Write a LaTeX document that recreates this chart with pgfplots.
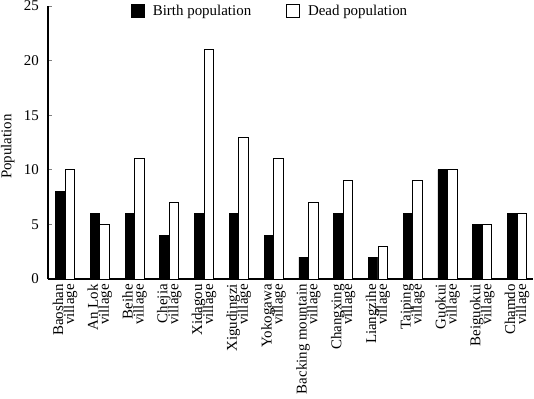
\documentclass[border=0pt]{standalone}
\usepackage{pgfplots}
\pgfplotsset{compat=1.18}
\usepackage{fontspec}
\setmainfont{Liberation Serif}
\newcommand{\tightfont}{\fontsize{15}{11}\selectfont\lineskiplimit=-20pt\relax\lineskip=0pt\relax}

\begin{document}
\begin{tikzpicture}
\begin{axis}[
  scale only axis, width=485bp, height=273bp,
  ybar=0pt, bar width=9.5bp,
  xmin=-0.49, xmax=13.46, ymin=0, ymax=25,
  axis x line*=bottom, axis y line*=left,
  axis line style={line width=1.2bp},
  ytick={0,5,10,15,20,25},
  tick align=inside, major tick length=4bp,
  ytick style={line width=1bp},
  xtick={0,...,13}, xtick style={draw=none},
  xticklabels={{Baoshan\\village},{An Lok\\village},{Beihe\\village},{Chejia\\village},{Xidagou\\village},{Xigudingzi\\village},{Yokogawa\\village},{Backing mountain\\village},{Changxing\\village},{Liangzihe\\village},{Taiping\\village},{Guokui\\village},{Beiguokui\\village},{Chamdo\\village}},
  xticklabel style={rotate=90, anchor=east, align=right, inner sep=0pt, xshift=-5bp,
    font=\tightfont},
  yticklabel style={inner sep=0pt, anchor=east, xshift=-9bp, font=\fontsize{15}{18}\selectfont},
  /pgf/number format/assume math mode=true,
  ylabel={Population},
  ylabel style={at={(axis description cs:-0.083,0.485)}, anchor=center, font=\fontsize{15}{18}\selectfont},
  legend columns=2,
  legend style={draw=none, fill=none, at={(0.458,0.982)}, anchor=center, font=\fontsize{15}{18}\selectfont,
    /tikz/every odd column/.append style={column sep=6bp},
    /tikz/every even column/.append style={column sep=33bp}},
  legend image code/.code={\draw[#1, line width=0.8bp] (0bp,-6.5bp) rectangle (13bp,6.5bp);},
]
\addplot[fill=black, draw=black, line width=0.8bp] coordinates {(0,8) (1,6) (2,6) (3,4) (4,6) (5,6) (6,4) (7,2) (8,6) (9,2) (10,6) (11,10) (12,5) (13,6)};
\addplot[fill=white, draw=black, line width=0.8bp] coordinates {(0,10) (1,5) (2,11) (3,7) (4,21) (5,13) (6,11) (7,7) (8,9) (9,3) (10,9) (11,10) (12,5) (13,6)};
\legend{Birth population, Dead population}
\end{axis}
\pgfresetboundingbox
\useasboundingbox (current axis.south west) ++(-48bp,-120bp) rectangle ++(534bp,399bp);
\end{tikzpicture}
\end{document}
